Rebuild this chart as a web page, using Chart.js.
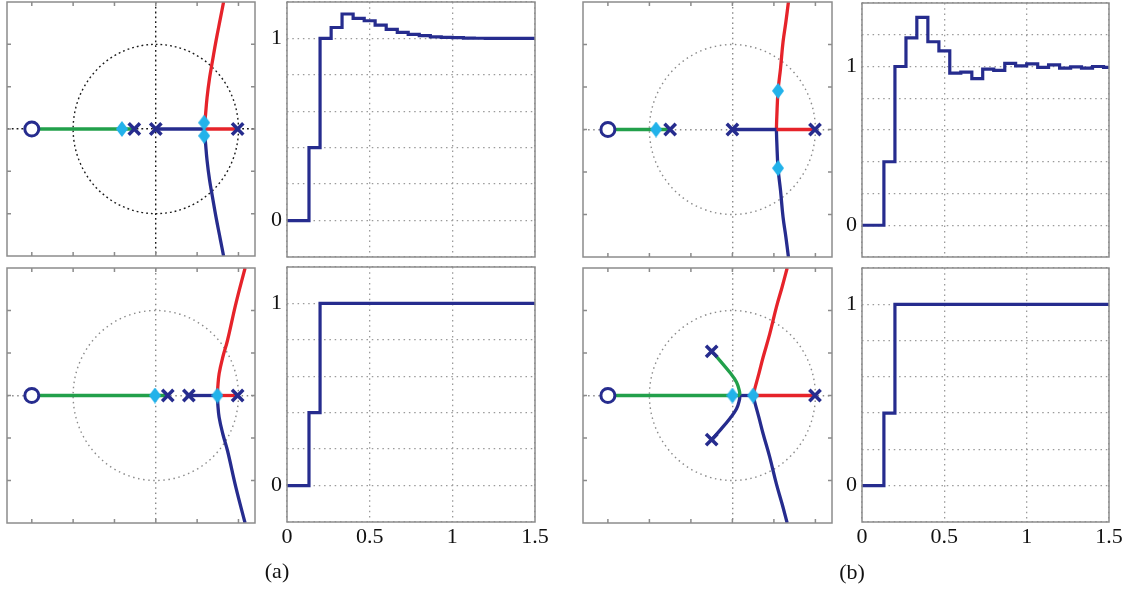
<!DOCTYPE html>
<html>
<head>
<meta charset="utf-8">
<title>Root locus and step responses</title>
<script src="https://cdn.jsdelivr.net/npm/chart.js@4.4.1/dist/chart.umd.min.js"></script>
<style>
  html, body { margin: 0; padding: 0; background: #fff; }
  #fig { position: relative; width: 1130px; height: 590px; overflow: hidden; font-family: "Liberation Serif", "Times New Roman", serif; }
  #fig canvas { position: absolute; }
  .cap { position: absolute; font-size: 22px; color: #111; transform: translate(-50%, -50%); }
</style>
</head>
<body>
<div id="fig">
  <canvas id="rlTopA" width="262" height="262" style="left:0;top:0"></canvas>
  <canvas id="stepTopA" width="290" height="262" style="left:262px;top:0"></canvas>
  <canvas id="rlBotA" width="262" height="268" style="left:0;top:262px"></canvas>
  <canvas id="stepBotA" width="290" height="300" style="left:262px;top:262px"></canvas>
  <canvas id="rlTopB" width="262" height="262" style="left:576px;top:0"></canvas>
  <canvas id="stepTopB" width="293" height="262" style="left:837px;top:0"></canvas>
  <canvas id="rlBotB" width="262" height="268" style="left:576px;top:262px"></canvas>
  <canvas id="stepBotB" width="293" height="300" style="left:837px;top:262px"></canvas>
  <div class="cap" style="left:277px;top:571px">(a)</div>
  <div class="cap" style="left:852px;top:572px">(b)</div>
</div>
<script>
// ---- step responses (sample time 1/15 s, last entry closes the plot at 1.5) ----
const stepTimes = [0, 0.067, 0.133, 0.2, 0.267, 0.333, 0.4, 0.467, 0.533, 0.6, 0.667, 0.733,
                   0.8, 0.867, 0.933, 1.0, 1.067, 1.133, 1.2, 1.267, 1.333, 1.4, 1.467, 1.5];
const stepTopA = [0, 0, 0.4, 1.0, 1.06, 1.134, 1.11, 1.097, 1.073, 1.05, 1.033, 1.022,
                  1.015, 1.009, 1.006, 1.004, 1.002, 1.001, 1.0, 1.0, 1.0, 1.0, 1.0, 1.0];
const stepTopB = [0, 0, 0.4, 1.0, 1.18, 1.31, 1.156, 1.098, 0.958, 0.965, 0.923, 0.983,
                  0.975, 1.02, 1.004, 1.017, 0.994, 1.01, 0.99, 0.998, 0.99, 1.0, 0.994, 0.994];
const stepBotA = [0, 0, 0.4, 1, 1, 1, 1, 1, 1, 1, 1, 1, 1, 1, 1, 1, 1, 1, 1, 1, 1, 1, 1, 1];
const stepBotB = [0, 0, 0.4, 1, 1, 1, 1, 1, 1, 1, 1, 1, 1, 1, 1, 1, 1, 1, 1, 1, 1, 1, 1, 1];

const timeTicks = [0, 0.5, 1, 1.5];
const timeLabels = ['0', '0.5', '1', '1.5'];
const levelGrid = [-0.2, 0, 0.2, 0.4, 0.6, 0.8, 1, 1.2];
const levelGridB = [-0.2, 0, 0.2, 0.4, 0.6, 0.8, 1, 1.2, 1.4];
const levelTicks = [0, 1];
const levelLabels = ['0', '1'];

// ---- root loci, points as [re, im] ----
const rlTicksRe = [-1.5, -1, -0.5, 0, 0.5, 1];
const rlTicksIm = [-1, -0.5, 0, 0.5, 1];

// (a) top
const aTopZeros = [[-1.5, 0]];
const aTopPoles = [[-0.26, 0], [0, 0], [0.99, 0]];
const aTopGains = [[-0.41, 0], [0.585, 0.075], [0.585, -0.08]];
const aTopGreen = [[-1.5, 0], [-0.26, 0]];
const aTopBlueReal = [[0, 0], [0.585, 0]];
const aTopRedReal = [[0.585, 0], [0.99, 0]];
const aTopRedUp = [[0.585, 0], [0.6, 0.15], [0.62, 0.37], [0.65, 0.6], [0.685, 0.8], [0.73, 1.05], [0.78, 1.3], [0.82, 1.5]];
const aTopBlueDown = [[0.585, 0], [0.6, -0.15], [0.62, -0.37], [0.65, -0.6], [0.685, -0.8], [0.73, -1.05], [0.78, -1.3], [0.82, -1.5]];

// (a) bottom
const aBotZeros = [[-1.5, 0]];
const aBotPoles = [[0.145, 0], [0.4, 0], [0.99, 0]];
const aBotGains = [[-0.01, 0], [0.745, 0]];
const aBotGreen = [[-1.5, 0], [0.145, 0]];
const aBotBlueReal = [[0.4, 0], [0.745, 0]];
const aBotRedReal = [[0.745, 0], [0.99, 0]];
const aBotRedUp = [[0.745, 0], [0.75, 0.1], [0.766, 0.255], [0.81, 0.45], [0.867, 0.647], [0.968, 1.078], [1.08, 1.5]];
const aBotBlueDown = [[0.745, 0], [0.75, -0.1], [0.766, -0.255], [0.81, -0.45], [0.867, -0.647], [0.968, -1.078], [1.08, -1.5]];

// (b) top
const bTopZeros = [[-1.5, 0]];
const bTopPoles = [[-0.75, 0], [0, 0], [0.995, 0]];
const bTopGains = [[-0.92, 0], [0.55, 0.455], [0.55, -0.455]];
const bTopGreen = [[-1.5, 0], [-0.75, 0]];
const bTopBlueReal = [[0, 0], [0.53, 0]];
const bTopRedReal = [[0.53, 0], [0.995, 0]];
const bTopRedUp = [[0.53, 0], [0.535, 0.15], [0.55, 0.455], [0.58, 0.72], [0.61, 1.03], [0.645, 1.27], [0.675, 1.5]];
const bTopBlueDown = [[0.53, 0], [0.535, -0.15], [0.55, -0.455], [0.58, -0.72], [0.61, -1.03], [0.645, -1.27], [0.675, -1.5]];

// (b) bottom
const bBotZeros = [[-1.5, 0]];
const bBotPoles = [[-0.25, 0.52], [-0.25, -0.52], [0.995, 0]];
const bBotGains = [[0, 0], [0.25, 0]];
const bBotGreen = [[-1.5, 0], [0.09, 0]];
const bBotGreenArc = [[-0.25, 0.52], [-0.15, 0.41], [-0.03, 0.27], [0.05, 0.157], [0.085, 0.05], [0.09, 0]];
const bBotBlueArc = [[-0.25, -0.52], [-0.15, -0.41], [-0.03, -0.27], [0.05, -0.157], [0.085, -0.05], [0.09, 0]];
const bBotBlueReal = [[0.09, 0], [0.25, 0]];
const bBotRedReal = [[0.25, 0], [0.995, 0]];
const bBotRedUp = [[0.25, 0], [0.27, 0.08], [0.32, 0.26], [0.37, 0.45], [0.45, 0.725], [0.53, 1.04], [0.6, 1.28], [0.66, 1.5]];
const bBotBlueDown = [[0.25, 0], [0.27, -0.08], [0.32, -0.26], [0.37, -0.45], [0.45, -0.725], [0.53, -1.04], [0.6, -1.28], [0.66, -1.5]];

const navy = '#262c8e';
const red = '#e6232a';
const green = '#22a04b';
const cyan = '#22b2ea';
const frameGray = '#8c8c8c';
const tickFont = { family: '"Liberation Serif", "Times New Roman", serif', size: 22 };

const near = (a, b) => Math.abs(a - b) < 1e-6;
const pts = pairs => pairs.map(([x, y]) => ({ x, y }));

// small tall diamond for the gain markers
function diamond(w, h, color) {
    const c = document.createElement('canvas');
    c.width = w; c.height = h;
    const g = c.getContext('2d');
    g.fillStyle = color;
    g.beginPath();
    g.moveTo(w / 2, 0); g.lineTo(w, h / 2); g.lineTo(w / 2, h); g.lineTo(0, h / 2);
    g.closePath();
    g.fill();
    return c;
}
const diamondImg = diamond(12, 16, cyan);

const zeroPad = s => { s.paddingLeft = 0; s.paddingRight = 0; s.paddingTop = 0; s.paddingBottom = 0; };

// box around the axes, inward ticks and the unit circle
const framePlugin = {
    id: 'frame',
    beforeDatasetsDraw(chart, args, opts) {
        if (!opts.circle) return;
        const { ctx, scales: { x, y } } = chart;
        const cx = x.getPixelForValue(0), cy = y.getPixelForValue(0);
        const rx = x.getPixelForValue(1) - cx, ry = cy - y.getPixelForValue(1);
        ctx.save();
        ctx.strokeStyle = opts.dotColor;
        ctx.lineWidth = opts.dotWidth;
        ctx.setLineDash(opts.dash);
        ctx.beginPath();
        ctx.ellipse(cx, cy, rx, ry, 0, 0, Math.PI * 2);
        ctx.stroke();
        ctx.restore();
    },
    afterDatasetsDraw(chart, args, opts) {
        const { ctx, chartArea: a, scales: { x, y } } = chart;
        ctx.save();
        ctx.strokeStyle = frameGray;
        ctx.lineWidth = 1.5;
        if (opts.ticks) {
            ctx.beginPath();
            x.ticks.forEach(t => {
                const p = x.getPixelForValue(t.value);
                ctx.moveTo(p, a.top); ctx.lineTo(p, a.top + 4);
                ctx.moveTo(p, a.bottom); ctx.lineTo(p, a.bottom - 4);
            });
            y.ticks.forEach(t => {
                const p = y.getPixelForValue(t.value);
                ctx.moveTo(a.left, p); ctx.lineTo(a.left + 4, p);
                ctx.moveTo(a.right, p); ctx.lineTo(a.right - 4, p);
            });
            ctx.stroke();
        }
        ctx.strokeRect(a.left, a.top, a.right - a.left, a.bottom - a.top);
        ctx.restore();
    }
};

const baseOptions = pad => ({
    responsive: false,
    animation: false,
    events: [],
    layout: { padding: pad, autoPadding: false },
});

const stepChart = (id, values, grid, showTime, pad) => new Chart(document.getElementById(id), {
    type: 'line',
    data: {
        datasets: [{
            data: stepTimes.map((t, i) => ({ x: t, y: values[i] })),
            stepped: true,
            borderColor: navy,
            borderWidth: 3.2,
            pointRadius: 0,
            fill: false,
        }],
    },
    options: {
        ...baseOptions(pad),
        plugins: { legend: { display: false }, tooltip: { enabled: false }, frame: { ticks: false } },
        scales: {
            x: {
                type: 'linear', min: 0, max: 1.5,
                afterBuildTicks: s => { s.ticks = timeTicks.map(v => ({ value: v })); },
                afterFit: s => { s.height = showTime ? 35 : 0; zeroPad(s); },
                grid: { color: '#9a9a9a', lineWidth: 1.3, drawTicks: false },
                border: { display: false, dash: [1.5, 3.8] },
                ticks: {
                    display: showTime, padding: 2, color: '#111', font: tickFont, maxRotation: 0, autoSkip: false,
                    callback: v => timeLabels[timeTicks.findIndex(t => near(t, v))] ?? '',
                },
            },
            y: {
                type: 'linear', min: grid[0], max: grid[grid.length - 1],
                afterBuildTicks: s => { s.ticks = grid.map(v => ({ value: v })); },
                afterFit: s => { s.width = 25; zeroPad(s); },
                grid: { color: '#9a9a9a', lineWidth: 1.3, drawTicks: false },
                border: { display: false, dash: [1.5, 3.8] },
                ticks: {
                    padding: 5, color: '#111', font: tickFont, autoSkip: false,
                    callback: v => levelLabels[levelTicks.findIndex(t => near(t, v))] ?? '',
                },
            },
        },
    },
    plugins: [framePlugin],
});

const branch = (pairs, color) => ({
    data: pts(pairs), showLine: true, borderColor: color, borderWidth: 3.3,
    pointRadius: 0, tension: pairs.length > 2 ? 0.4 : 0, order: 2,
});

const rlChart = (id, p, pad, dotColor, dash) => new Chart(document.getElementById(id), {
    type: 'scatter',
    data: {
        datasets: [
            { data: pts(p.gains), pointStyle: diamondImg, pointRadius: 7, order: 0 },
            { data: pts(p.poles), pointStyle: 'crossRot', pointRadius: 8, pointBorderWidth: 3.5,
              pointBorderColor: navy, pointBackgroundColor: navy, order: 1 },
            { data: pts(p.zeros), pointStyle: 'circle', pointRadius: 7, pointBorderWidth: 3,
              pointBorderColor: navy, pointBackgroundColor: '#fff', order: 1 },
            ...p.branches.map(([pairs, color]) => branch(pairs, color)),
        ],
    },
    options: {
        ...baseOptions(pad),
        plugins: {
            legend: { display: false }, tooltip: { enabled: false },
            frame: { ticks: true, circle: true, dotColor, dotWidth: 1.4, dash },
        },
        scales: {
            x: {
                type: 'linear', min: -1.8, max: 1.2,
                afterBuildTicks: s => { s.ticks = rlTicksRe.map(v => ({ value: v })); },
                afterFit: s => { s.height = 0; zeroPad(s); },
                grid: { color: c => near(c.tick.value, 0) ? dotColor : 'rgba(0,0,0,0)', lineWidth: 1.4, drawTicks: false },
                border: { display: false, dash },
                ticks: { display: false },
            },
            y: {
                type: 'linear', min: -1.5, max: 1.5,
                afterBuildTicks: s => { s.ticks = rlTicksIm.map(v => ({ value: v })); },
                afterFit: s => { s.width = 0; zeroPad(s); },
                grid: { color: c => near(c.tick.value, 0) ? dotColor : 'rgba(0,0,0,0)', lineWidth: 1.4, drawTicks: false },
                border: { display: false, dash },
                ticks: { display: false },
            },
        },
    },
    plugins: [framePlugin],
});

rlChart('rlTopA', {
    zeros: aTopZeros, poles: aTopPoles, gains: aTopGains,
    branches: [[aTopGreen, green], [aTopBlueReal, navy], [aTopRedReal, red], [aTopRedUp, red], [aTopBlueDown, navy]],
}, { left: 7, top: 2, right: 7, bottom: 6 }, '#1a1a1a', [1.8, 3]);

rlChart('rlBotA', {
    zeros: aBotZeros, poles: aBotPoles, gains: aBotGains,
    branches: [[aBotGreen, green], [aBotBlueReal, navy], [aBotRedReal, red], [aBotRedUp, red], [aBotBlueDown, navy]],
}, { left: 7, top: 6, right: 7, bottom: 7 }, '#8a8a8a', [1.5, 3.6]);

rlChart('rlTopB', {
    zeros: bTopZeros, poles: bTopPoles, gains: bTopGains,
    branches: [[bTopGreen, green], [bTopBlueReal, navy], [bTopRedReal, red], [bTopRedUp, red], [bTopBlueDown, navy]],
}, { left: 7, top: 2, right: 6, bottom: 5 }, '#8a8a8a', [1.5, 3.6]);

rlChart('rlBotB', {
    zeros: bBotZeros, poles: bBotPoles, gains: bBotGains,
    branches: [[bBotGreen, green], [bBotGreenArc, green], [bBotBlueArc, navy], [bBotBlueReal, navy],
               [bBotRedReal, red], [bBotRedUp, red], [bBotBlueDown, navy]],
}, { left: 7, top: 6, right: 6, bottom: 7 }, '#8a8a8a', [1.5, 3.6]);

stepChart('stepTopA', stepTopA, levelGrid, false, { left: 0, top: 2, right: 17, bottom: 5 });
stepChart('stepBotA', stepBotA, levelGrid, true, { left: 0, top: 5, right: 17, bottom: 5 });
stepChart('stepTopB', stepTopB, levelGridB, false, { left: 0, top: 3, right: 21, bottom: 5 });
stepChart('stepBotB', stepBotB, levelGrid, true, { left: 0, top: 6, right: 21, bottom: 5 });
</script>
</body>
</html>
